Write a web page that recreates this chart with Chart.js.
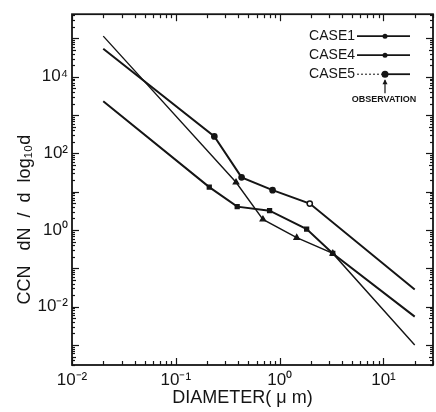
<!DOCTYPE html>
<html>
<head>
<meta charset="utf-8">
<script src="https://cdn.jsdelivr.net/npm/chart.js@4.4.1/dist/chart.umd.min.js"></script>
<style>
  html, body { margin: 0; padding: 0; background: #fff; }
  #wrap { width: 436px; height: 412px; }
</style>
</head>
<body>
<div id="wrap"><canvas id="ccnChart" width="436" height="412"></canvas></div>
<script>
// values
const case1X = [0.02, 0.38, 0.69, 1.46, 3.25, 20];
const case1Y = [1.15e5, 17.6, 1.9, 0.63, 0.245, 1.0e-3];
const case4X = [0.02, 0.235, 0.43, 0.855, 1.95, 20];
const case4Y = [5.4e4, 277, 23.7, 11, 4.9, 0.028];
const case5X = [0.02, 0.21, 0.39, 0.8, 1.82, 3.25, 20];
const case5Y = [2290, 13.2, 4.08, 3.2, 1.06, 0.245, 5.5e-3];

const xTickValues = [0.01, 0.1, 1, 10];
const xTickLabels = ['10\u207B\u00B2', '10\u207B\u00B9', '10\u2070', '10\u00B9'];
const yTickValues = [1e-2, 1, 1e2, 1e4];
const yTickLabels = ['10\u207B\u00B2', '10\u2070', '10\u00B2', '10\u2074'];

const legendNames = ['CASE1', 'CASE4', 'CASE5'];

const INK = '#151515';
const FONT = "'Liberation Sans', Arial, sans-serif";

function toPoints(xs, ys) {
    return xs.map((x, i) => ({ x: x, y: ys[i] }));
}

// no markers on the end points of each curve
function innerRadius(xs, r) {
    return xs.map((x, i) => (i === 0 || i === xs.length - 1) ? 0 : r);
}

// inward tick marks on all four sides plus the frame
const frameTicks = {
    id: 'frameTicks',
    afterDraw(chart) {
        const { ctx, chartArea: a, scales: { x, y } } = chart;
        ctx.save();
        ctx.strokeStyle = INK;
        ctx.lineWidth = 1.2;
        const seg = (x1, y1, x2, y2) => {
            ctx.beginPath(); ctx.moveTo(x1, y1); ctx.lineTo(x2, y2); ctx.stroke();
        };
        for (let e = -2; e <= 1; e++) {
            for (let m = 1; m <= 9; m++) {
                const v = m * Math.pow(10, e);
                if (v < x.min || v > x.max) continue;
                const px = Math.round(x.getPixelForValue(v)) + 0.5;
                const len = m === 1 ? 7 : 4;
                seg(px, a.bottom, px, a.bottom - len);
                seg(px, a.top, px, a.top + len);
            }
        }
        for (let e = -4; e <= 5; e++) {
            for (let m = 1; m <= 9; m++) {
                const v = m * Math.pow(10, e);
                if (v < y.min || v > y.max) continue;
                const py = Math.round(y.getPixelForValue(v)) + 0.5;
                const len = m === 1 ? 7 : (m === 5 ? 4 : 3);
                seg(a.left, py, a.left + len, py);
                seg(a.right, py, a.right - len, py);
            }
        }
        ctx.lineWidth = 1.8;
        ctx.strokeRect(a.left, a.top, a.right - a.left, a.bottom - a.top);
        ctx.restore();
    }
};

// legend in the upper right corner with the OBSERVATION pointer
const caseLegend = {
    id: 'caseLegend',
    afterDraw(chart) {
        const { ctx, chartArea: a } = chart;
        const textRight = a.right - 78;
        const lineL = a.right - 76, lineR = a.right - 23, mark = a.right - 48;
        ctx.save();
        ctx.fillStyle = INK;
        ctx.strokeStyle = INK;
        ctx.font = '14px ' + FONT;
        ctx.textAlign = 'right';
        ctx.textBaseline = 'middle';
        legendNames.forEach((name, i) => {
            const ly = a.top + 22 + i * 19;
            ctx.fillText(name, textRight, ly);
            if (i === 2) {
                ctx.lineWidth = 1;
                ctx.setLineDash([2, 2]);
                ctx.beginPath(); ctx.moveTo(lineL, ly); ctx.lineTo(mark, ly); ctx.stroke();
                ctx.setLineDash([]);
                ctx.lineWidth = 1.8;
                ctx.beginPath(); ctx.moveTo(mark, ly); ctx.lineTo(lineR, ly); ctx.stroke();
            } else {
                ctx.lineWidth = 1.8;
                ctx.beginPath(); ctx.moveTo(lineL, ly); ctx.lineTo(lineR, ly); ctx.stroke();
            }
            ctx.beginPath();
            ctx.arc(mark, ly, i === 2 ? 3.5 : 2.5, 0, Math.PI * 2);
            ctx.fill();
        });
        // arrow up to the CASE5 marker
        const ay = a.top + 22 + 2 * 19;
        ctx.lineWidth = 1.2;
        ctx.beginPath(); ctx.moveTo(mark, ay + 19); ctx.lineTo(mark, ay + 6); ctx.stroke();
        ctx.beginPath();
        ctx.moveTo(mark, ay + 5); ctx.lineTo(mark - 2.5, ay + 10); ctx.lineTo(mark + 2.5, ay + 10);
        ctx.closePath(); ctx.fill();
        ctx.font = 'bold 9px ' + FONT;
        ctx.textAlign = 'center';
        ctx.fillText('OBSERVATION', mark - 1, ay + 25);
        ctx.restore();
    }
};

const baseLine = {
    showLine: true,
    fill: false,
    borderColor: INK,
    backgroundColor: INK,
    pointBorderColor: INK,
    tension: 0
};

new Chart(document.getElementById('ccnChart'), {
    type: 'scatter',
    data: {
        datasets: [
            Object.assign({}, baseLine, {
                label: 'CASE1',
                data: toPoints(case1X, case1Y),
                borderWidth: 1.4,
                pointStyle: 'triangle',
                pointRadius: innerRadius(case1X, 3)
            }),
            Object.assign({}, baseLine, {
                label: 'CASE4',
                data: toPoints(case4X, case4Y),
                borderWidth: 2,
                pointStyle: 'circle',
                pointRadius: innerRadius(case4X, 2.6),
                pointBackgroundColor: [INK, INK, INK, INK, '#fff', INK],
                pointBorderWidth: 1.5
            }),
            Object.assign({}, baseLine, {
                label: 'CASE5',
                data: toPoints(case5X, case5Y),
                borderWidth: 2,
                pointStyle: 'rect',
                pointRadius: innerRadius(case5X, 2.3)
            })
        ]
    },
    options: {
        responsive: false,
        animation: false,
        layout: { padding: { top: 7, right: 3, left: 0, bottom: 0 } },
        plugins: {
            legend: { display: false },
            tooltip: { enabled: false }
        },
        scales: {
            x: {
                type: 'logarithmic',
                min: 0.01,
                max: 30,
                grid: { display: false, drawTicks: false },
                border: { display: false },
                afterBuildTicks: scale => {
                    scale.ticks = xTickValues.map(v => ({ value: v }));
                },
                afterFit: scale => { scale.height = 47; },
                ticks: {
                    autoSkip: false,
                    maxRotation: 0,
                    padding: 5,
                    color: INK,
                    font: { family: FONT, size: 17 },
                    callback: (v, i) => xTickLabels[i]
                },
                title: {
                    display: true,
                    // trailing spaces nudge the centred title a little to the left, as in the scan
                    text: 'DIAMETER( \u03BC m)    ',
                    color: INK,
                    font: { family: FONT, size: 18 },
                    padding: { top: 0, bottom: 3 }
                }
            },
            y: {
                type: 'logarithmic',
                min: 3.3e-4,
                max: 4.3e5,
                grid: { display: false, drawTicks: false },
                border: { display: false },
                afterBuildTicks: scale => {
                    scale.ticks = yTickValues.map(v => ({ value: v }));
                },
                afterFit: scale => { scale.width = 72; },
                ticks: {
                    autoSkip: false,
                    padding: 4,
                    color: INK,
                    font: { family: FONT, size: 17 },
                    callback: (v, i) => yTickLabels[i]
                },
                title: {
                    display: true,
                    // spaced out and padded at the end so it sits lower, like the original
                    text: 'CCN   dN  /  d  log\u2081\u2080d            ',
                    color: INK,
                    font: { family: FONT, size: 18 },
                    padding: { top: 14, bottom: 0 }
                }
            }
        }
    },
    plugins: [frameTicks, caseLegend]
});
</script>
</body>
</html>
